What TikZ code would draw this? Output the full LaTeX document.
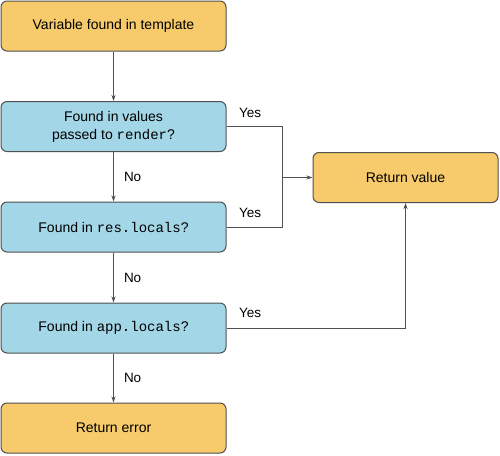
\documentclass[tikz,border=0pt]{standalone}
\usepackage{fontspec}
\setmainfont{Liberation Sans}
\setmonofont{Liberation Mono}
\usetikzlibrary{arrows.meta}
\definecolor{orangebox}{HTML}{F7CB6B}
\definecolor{bluebox}{HTML}{A3D6E6}
\definecolor{edge}{HTML}{505050}
\begin{document}
\begin{tikzpicture}[x=1pt,y=-1pt,
  box/.style={draw=edge, line width=1pt, rounded corners=6pt, minimum width=225pt, minimum height=50pt, align=center, font=\fontsize{14}{18}\selectfont, inner sep=0pt},
  obox/.style={box, fill=orangebox},
  bbox/.style={box, fill=bluebox},
  conn/.style={draw=edge, line width=1pt},
  arr/.style={conn, -{Stealth[length=6pt,width=4pt]}},
  lab/.style={font=\fontsize{13.5}{16}\selectfont, inner sep=0pt}]
\useasboundingbox (0,0) rectangle (500,455);
\node[obox] (start) at (113.5,26) {Variable found in template};
\node[bbox] (q1) at (113.5,126.5) {Found in values\\passed to \texttt{render}?};
\node[bbox] (q2) at (113.5,227) {Found in \texttt{res.locals}?};
\node[bbox] (q3) at (113.5,328) {Found in \texttt{app.locals}?};
\node[obox] (err) at (113.5,428) {Return error};
\node[obox, minimum width=185pt] (ret) at (405.5,177.5) {Return value};
\coordinate (j1) at (282,126.5);
\coordinate (j2) at (282,227);
\coordinate (jm) at (282,177.5);
\coordinate (j3) at (ret.south |- q3.east);
\draw[arr] (start) -- (q1);
\draw[arr] (q1) -- node[lab, right=10pt, pos=0.5] {No} (q2);
\draw[arr] (q2) -- node[lab, right=10pt, pos=0.5] {No} (q3);
\draw[arr] (q3) -- node[lab, right=10pt, pos=0.5] {No} (err);
\draw[conn] (q1.east) -- (j1) -- (j2) -- (q2.east);
\draw[arr] (jm) -- (ret.west);
\draw[arr] (q3.east) -- (j3) -- (ret.south);
\node[lab, anchor=west] (y1) at (239,113) {Yes};
\node[lab, anchor=west] (y2) at (239,213) {Yes};
\node[lab, anchor=west] (y3) at (239,313) {Yes};
\end{tikzpicture}
\end{document}
